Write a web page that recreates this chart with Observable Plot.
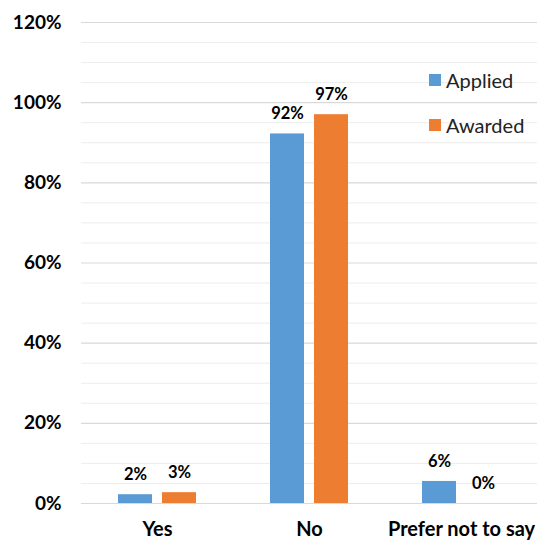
<!DOCTYPE html>
<html>
<head>
<meta charset="utf-8">
<script src="https://cdn.jsdelivr.net/npm/d3@7"></script>
<script src="https://cdn.jsdelivr.net/npm/@observablehq/plot@0.6"></script>
<style>
  html, body { margin: 0; padding: 0; background: #fff; }
  #wrap { position: relative; width: 537px; height: 541px; font-family: Lato, "Open Sans", sans-serif; }
  #legend { position: absolute; left: 429px; top: 68px; font-size: 20px; color: #222; }
  .li { display: flex; align-items: center; height: 24px; margin-bottom: 21px; }
  .sw { width: 12px; height: 12px; margin-right: 5px; }
</style>
</head>
<body>
<div id="wrap"><div id="legend"></div></div>
<script>
const categories = ["Yes", "No", "Prefer not to say"];
const series = ["Applied", "Awarded"];
const colors = ["#5b9bd5", "#ed7d31"];
const applied = [2.2, 92.2, 5.5];
const awarded = [2.7, 97, 0];
const yTicks = [0, 20, 40, 60, 80, 100, 120];
const yMinor = [5, 10, 15, 25, 30, 35, 45, 50, 55, 65, 70, 75, 85, 90, 95, 105, 110, 115];

const data = categories.flatMap((c, i) => [
  {category: c, series: "Applied", value: applied[i]},
  {category: c, series: "Awarded", value: awarded[i]}
]);

const font = "Lato, 'Open Sans', sans-serif";

const chart = Plot.plot({
  width: 537,
  height: 541,
  marginTop: 22,
  marginBottom: 38,
  marginLeft: 80,
  marginRight: 0,
  style: {fontFamily: font, color: "#000", background: "#fff"},
  fx: {domain: categories, padding: 0, label: null},
  x: {domain: series, paddingInner: 0.23, paddingOuter: 0.84, axis: null},
  y: {domain: [0, 120], label: null},
  color: {domain: series, range: colors},
  marks: [
    Plot.ruleY(yMinor, {stroke: "#ededed", strokeWidth: 1}),
    Plot.ruleY(yTicks, {stroke: "#d9d9d9", strokeWidth: 1.2}),
    Plot.axisY({ticks: yTicks, tickSize: 0, tickPadding: 20, tickFormat: d => d + "%", fontSize: 19, fontWeight: "bold", label: null}),
    Plot.axisFx({anchor: "bottom", tickSize: 0, tickPadding: 18, fontSize: 20, fontWeight: "bold", label: null}),
    Plot.barY(data, {fx: "category", x: "series", y: "value", fill: "series"}),
    Plot.text(data, {fx: "category", x: "series", y: "value", text: d => Math.round(d.value) + "%", dy: -20, fontSize: 16.5, fontWeight: "bold", fill: "#000"})
  ]
});
document.getElementById("wrap").prepend(chart);
chart.style.position = "absolute";
chart.style.left = "0";
chart.style.top = "0";

const legend = document.getElementById("legend");
series.forEach((s, i) => {
  const row = document.createElement("div");
  row.className = "li";
  row.innerHTML = `<span class="sw" style="background:${colors[i]}"></span><span>${s}</span>`;
  legend.appendChild(row);
});
</script>
</body>
</html>
